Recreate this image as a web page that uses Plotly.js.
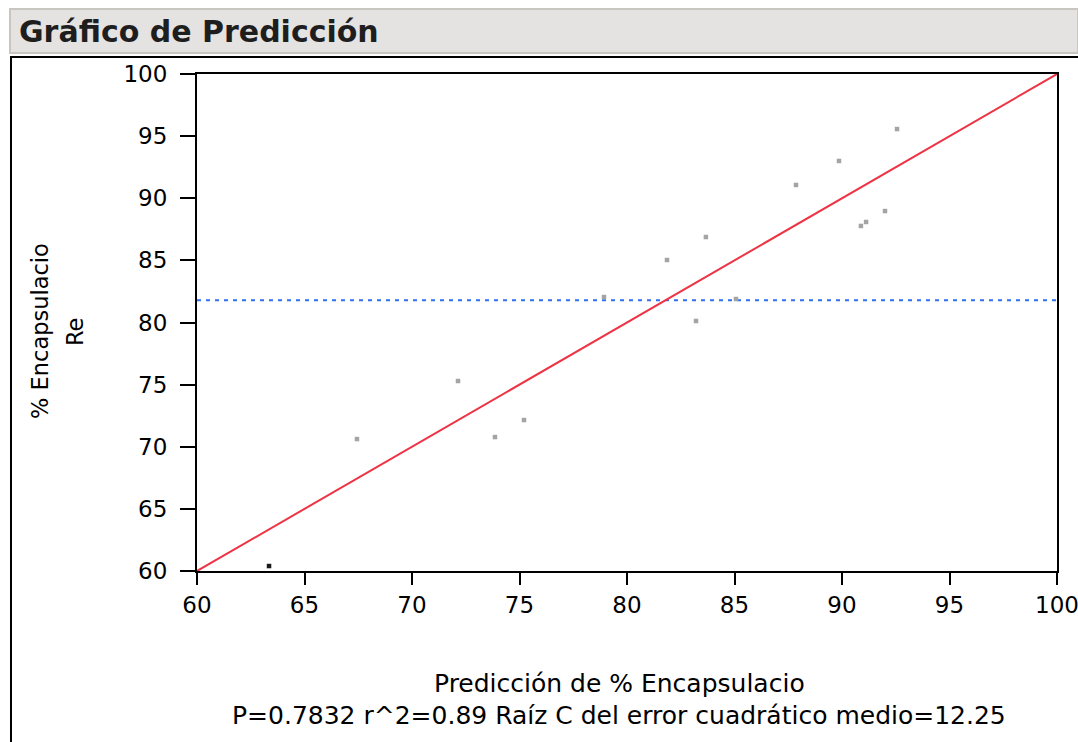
<!DOCTYPE html>
<html>
<head>
<meta charset="utf-8">
<script src="https://cdn.plot.ly/plotly-3.0.1.min.js"></script>
<style>
  html, body { margin: 0; padding: 0; background: #ffffff; }
  #chart { width: 1078px; height: 742px; }
</style>
</head>
<body>
<div id="chart"></div>
<script>
// Predicted vs. actual encapsulation percentage
const predicted = [63.35, 67.44, 72.14, 73.86, 75.21, 78.93, 81.86, 83.21, 83.67, 85.07, 87.86, 89.86, 90.88, 91.12, 92.00, 92.56];
const actual    = [60.40, 70.62, 75.29, 70.78, 72.15, 82.05, 85.03, 80.12, 86.88, 81.89, 91.07, 93.00, 87.77, 88.09, 88.97, 95.57];
const highlightedIndex = 0;
const meanActual = 81.8;
const fitLineX = [60, 100];
const fitLineY = [60, 100];
const axisRange = [60, 100];
const axisTicks = [60, 65, 70, 75, 80, 85, 90, 95, 100];

const chartTitle = 'Gráfico de Predicción';
const yTitleLines = ['% Encapsulacio', 'Re'];
const xTitleLines = ['Predicción de % Encapsulacio',
                     'P=0.7832 r^2=0.89 Raíz C del error cuadrático medio=12.25'];

const FONT = '"DejaVu Sans", Verdana, sans-serif';

// plot area in pixels
const W = 1078, H = 742;
const L = 197, R = 1057, T = 74, B = 571;
const px = x => (x - L) / (R - L);
const py = y => (B - y) / (B - T);

const pointColors = predicted.map((_, i) => i === highlightedIndex ? '#1a1a1a' : '#a4a4a4');

const traces = [
  {
    x: [axisRange[0], axisRange[1]],
    y: [meanActual, meanActual],
    mode: 'lines',
    line: { color: '#2f6ff2', width: 2, dash: '4px,5px' },
    hoverinfo: 'skip',
    showlegend: false
  },
  {
    x: fitLineX,
    y: fitLineY,
    mode: 'lines',
    line: { color: '#ee3344', width: 2 },
    hoverinfo: 'skip',
    showlegend: false
  },
  {
    x: predicted,
    y: actual,
    mode: 'markers',
    marker: { symbol: 'square', size: 4.5, color: pointColors, line: { width: 0 } },
    cliponaxis: false,
    showlegend: false
  }
];

const axisCommon = {
  range: axisRange,
  tickmode: 'array',
  tickvals: axisTicks,
  ticktext: axisTicks.map(String),
  ticks: 'outside',
  tickwidth: 2,
  tickcolor: '#000000',
  showline: true,
  linewidth: 2,
  linecolor: '#000000',
  mirror: true,
  showgrid: false,
  zeroline: false,
  ticklabeloverflow: 'allow',
  tickfont: { family: FONT, size: 23, color: '#000000' }
};

const layout = {
  width: W,
  height: H,
  autosize: false,
  margin: { l: L, r: W - R, t: T, b: H - B, pad: 0 },
  paper_bgcolor: '#ffffff',
  plot_bgcolor: '#ffffff',
  showlegend: false,
  title: {
    text: '<b>' + chartTitle + '</b>',
    font: { family: FONT, size: 30, color: '#1e1e1e' },
    xref: 'container', yref: 'container',
    x: 19 / W, xanchor: 'left',
    y: 1 - 31 / H, yanchor: 'middle'
  },
  xaxis: Object.assign({}, axisCommon, { ticklen: 12, ticklabelstandoff: 0 }),
  yaxis: Object.assign({}, axisCommon, { ticklen: 15, ticklabelstandoff: 8 }),
  shapes: [
    // header band
    { type: 'rect', xref: 'paper', yref: 'paper',
      x0: px(10), x1: px(1078), y0: py(53), y1: py(9),
      fillcolor: '#e4e3e1', line: { color: '#c9c5bf', width: 2 }, layer: 'below' },
    // panel frame
    { type: 'line', xref: 'paper', yref: 'paper',
      x0: px(10), x1: px(1078), y0: py(57), y1: py(57),
      line: { color: '#000000', width: 2 } },
    { type: 'line', xref: 'paper', yref: 'paper',
      x0: px(11), x1: px(11), y0: py(57), y1: py(742),
      line: { color: '#000000', width: 2 } }
  ],
  annotations: [
    { xref: 'paper', yref: 'paper', x: px(40), y: py(331), text: yTitleLines[0],
      textangle: -90, showarrow: false, xanchor: 'center', yanchor: 'middle',
      font: { family: FONT, size: 22.5, color: '#000000' } },
    { xref: 'paper', yref: 'paper', x: px(75), y: py(332), text: yTitleLines[1],
      textangle: -90, showarrow: false, xanchor: 'center', yanchor: 'middle',
      font: { family: FONT, size: 22.5, color: '#000000' } },
    { xref: 'paper', yref: 'paper', x: px(619), y: py(683), text: xTitleLines[0],
      showarrow: false, xanchor: 'center', yanchor: 'middle',
      font: { family: FONT, size: 25, color: '#000000' } },
    { xref: 'paper', yref: 'paper', x: px(619), y: py(715), text: xTitleLines[1],
      showarrow: false, xanchor: 'center', yanchor: 'middle',
      font: { family: FONT, size: 25, color: '#000000' } }
  ]
};

Plotly.newPlot('chart', traces, layout, { staticPlot: true, displayModeBar: false });
</script>
</body>
</html>
